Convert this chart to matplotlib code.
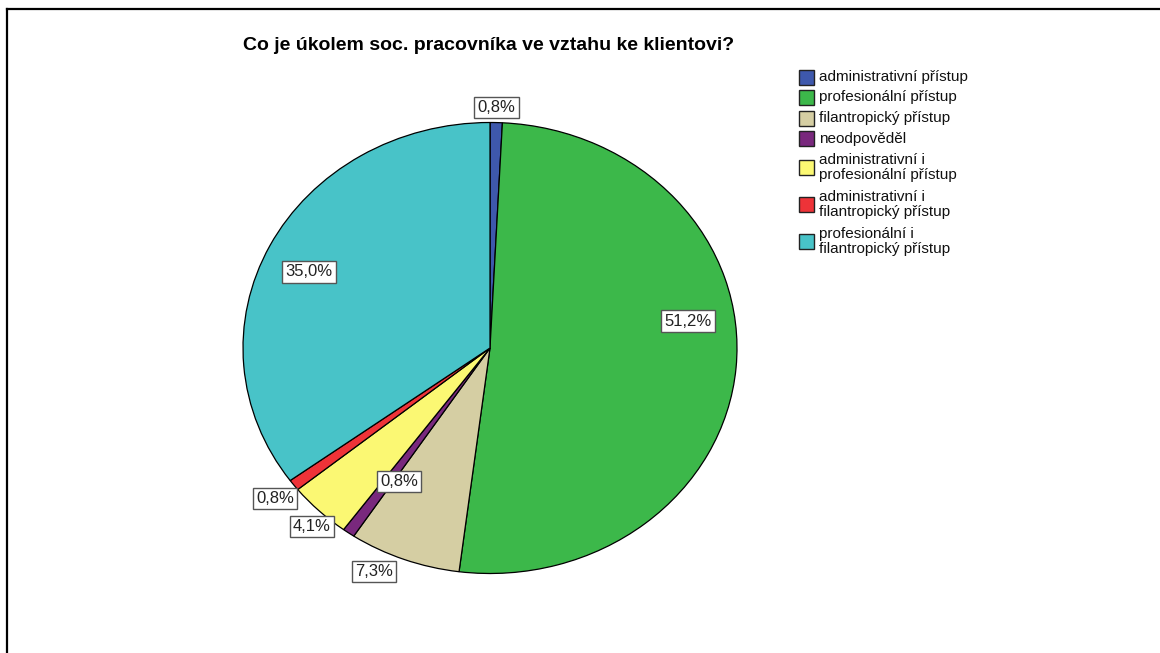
import matplotlib
matplotlib.use('Agg')
import numpy as np
import matplotlib.pyplot as plt
from matplotlib.patches import Rectangle
from matplotlib.lines import Line2D

plt.rcParams['font.family'] = ['Liberation Sans', 'DejaVu Sans']

title = 'Co je úkolem soc. pracovníka ve vztahu ke klientovi?'
categories = [
    'administrativní přístup',
    'profesionální přístup',
    'filantropický přístup',
    'neodpověděl',
    'administrativní i\nprofesionální přístup',
    'administrativní i\nfilantropický přístup',
    'profesionální i\nfilantropický přístup',
]
percents = [0.8, 51.2, 7.3, 0.8, 4.1, 0.8, 35.0]
colors = ['#3e58ac', '#3cb84a', '#d5cea3', '#79287d', '#fbf873', '#ee3338', '#48c3c8']

# label placement: distance from centre and small angle nudge (deg)
label_r = [1.067, 0.811, 1.096, 0.698, 1.071, 1.097, 0.807]
label_shift = [0, 13.5, -5, 3, 1.4, 0, 2.3]

W, H = 1160, 653
fig = plt.figure(figsize=(W / 100, H / 100), dpi=100)


def fx(px):
    return px / W


def fy(py):
    return 1 - py / H


# frame (left and top only)
fig.add_artist(Line2D([fx(7), fx(7)], [fy(9), 0], color='black', lw=1.6,
                      transform=fig.transFigure))
fig.add_artist(Line2D([fx(7), 1], [fy(9), fy(9)], color='black', lw=1.6,
                      transform=fig.transFigure))

# pie is drawn slightly elliptical like the original
cx, cy, rx, ry = 490, 348, 247, 225.5
ax = fig.add_axes([fx(cx - rx), fy(cy + ry), 2 * rx / W, 2 * ry / H])
wedges, _ = ax.pie(percents, colors=colors, startangle=90, counterclock=False,
                   wedgeprops=dict(edgecolor='black', linewidth=0.9))
ax.set_aspect('auto')
ax.set_xlim(-1, 1)
ax.set_ylim(-1, 1)
ax.axis('off')

for w, v, r, s in zip(wedges, percents, label_r, label_shift):
    mid = np.radians((w.theta1 + w.theta2) / 2 + s)
    ax.text(r * np.cos(mid), r * np.sin(mid), f'{v:.1f}%'.replace('.', ','),
            ha='center', va='center', fontsize=12, color='#222222',
            bbox=dict(boxstyle='square,pad=0.2', fc='white', ec='#555555', lw=1))

fig.text(fx(489), fy(46), title, ha='center', va='center', fontsize=14,
         fontweight='bold')

# legend
y = 77
for name, c in zip(categories, colors):
    nlines = name.count('\n') + 1
    yc = y + (nlines - 1) * 16.7 / 2
    fig.add_artist(Rectangle((fx(799), fy(yc + 7.5)), 15 / W, 15 / H, fc=c,
                             ec='#222222', lw=1, transform=fig.transFigure))
    fig.text(fx(819), fy(yc), name, ha='left', va='center', fontsize=11,
             linespacing=1.1, color='#111111')
    y += 20.5 + (nlines - 1) * 16.7

fig.savefig('out.png', dpi=100, facecolor='white')
